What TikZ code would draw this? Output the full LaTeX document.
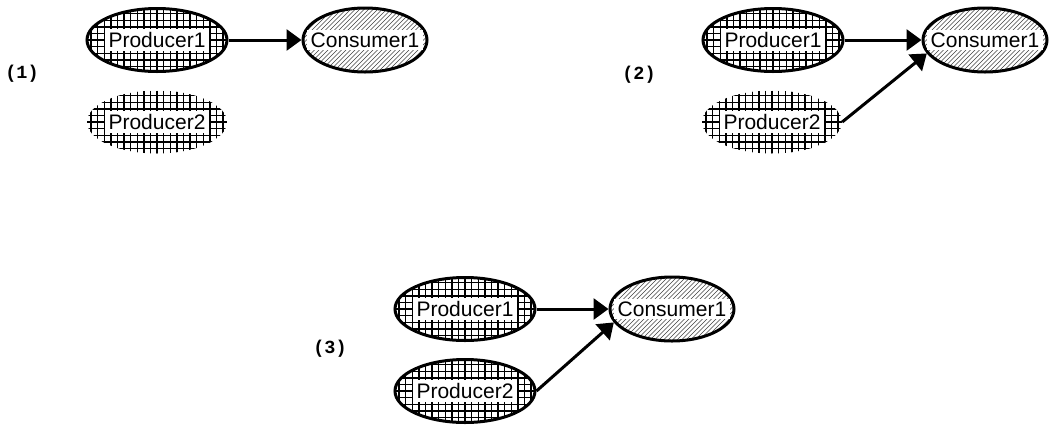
\documentclass[tikz,border=0pt]{standalone}
\usepackage{fontspec}
\setmainfont{Liberation Sans}
\newfontfamily\labmono{Liberation Mono}
\usetikzlibrary{arrows.meta,shapes.geometric}
\begin{document}
\begin{tikzpicture}[x=1pt,y=-1pt,
  gridfill/.style={path picture={
    \foreach \k in {-11,...,11} {
      \draw[line width=1.4pt] ([xshift=\k*6.6pt]path picture bounding box.north) -- ([xshift=\k*6.6pt]path picture bounding box.south);
    }
    \foreach \k in {-5,...,5} {
      \draw[line width=1.4pt] ([yshift=\k*6.6pt]path picture bounding box.west) -- ([yshift=\k*6.6pt]path picture bounding box.east);
    }
  }},
  diagfill/.style={path picture={
    \foreach \k in {-22,...,22} {
      \draw[line width=0.6pt, black!75] ([xshift=\k*4.5pt-40pt, yshift=-40pt]path picture bounding box.center) -- ++(80pt,80pt);
    }
  }},
  prod/.style={ellipse, minimum width=140pt, minimum height=63pt, inner sep=0pt, gridfill},
  prodb/.style={prod, draw, line width=3pt},
  cons/.style={ellipse, draw, line width=3pt, minimum width=124pt, minimum height=64pt, inner sep=0pt, diagfill},
  txt/.style={fill=white, inner xsep=4pt, inner ysep=3pt, font=\fontsize{21}{24}\selectfont},
  lab/.style={font=\labmono\bfseries\fontsize{18.5}{20}\selectfont},
  arr/.style={line width=3pt, -{Triangle[length=15pt,width=21pt]}}]
\useasboundingbox (0,0) rectangle (1053,424);

% panel 1
\node[prodb] (p1a) at (157,40) {};
\node[txt] (tp1a) at (p1a.center) {Producer1};
\node[prod] (p2a) at (157,122) {};
\node[txt] (tp2a) at (p2a.center) {Producer2};
\node[cons] (c1a) at (365,40) {};
\node[txt] (tc1a) at (c1a.center) {Consumer1};
\node[lab] (l1) at (22,74) {(1)};
\draw[arr] (p1a.east) -- (c1a.west);

% panel 2
\node[prodb] (p1b) at (773,40) {};
\node[txt] (tp1b) at (p1b.center) {Producer1};
\node[prod] (p2b) at (772,122) {};
\node[txt] (tp2b) at (p2b.center) {Producer2};
\node[cons] (c1b) at (985,40) {};
\node[txt] (tc1b) at (c1b.center) {Consumer1};
\node[lab] (l2) at (639,75) {(2)};
\draw[arr] (p1b.east) -- (c1b.west);
\draw[arr] (p2b.east) -- (c1b.193);

% panel 3
\node[prodb] (p1c) at (465,309) {};
\node[txt] (tp1c) at (p1c.center) {Producer1};
\node[prodb] (p2c) at (465,391) {};
\node[txt] (tp2c) at (p2c.center) {Producer2};
\node[cons] (c1c) at (672,309) {};
\node[txt] (tc1c) at (c1c.center) {Consumer1};
\node[lab] (l3) at (330,349) {(3)};
\draw[arr] (p1c.east) -- (c1c.west);
\draw[arr] (p2c.east) -- (c1c.193);
\end{tikzpicture}
\end{document}
